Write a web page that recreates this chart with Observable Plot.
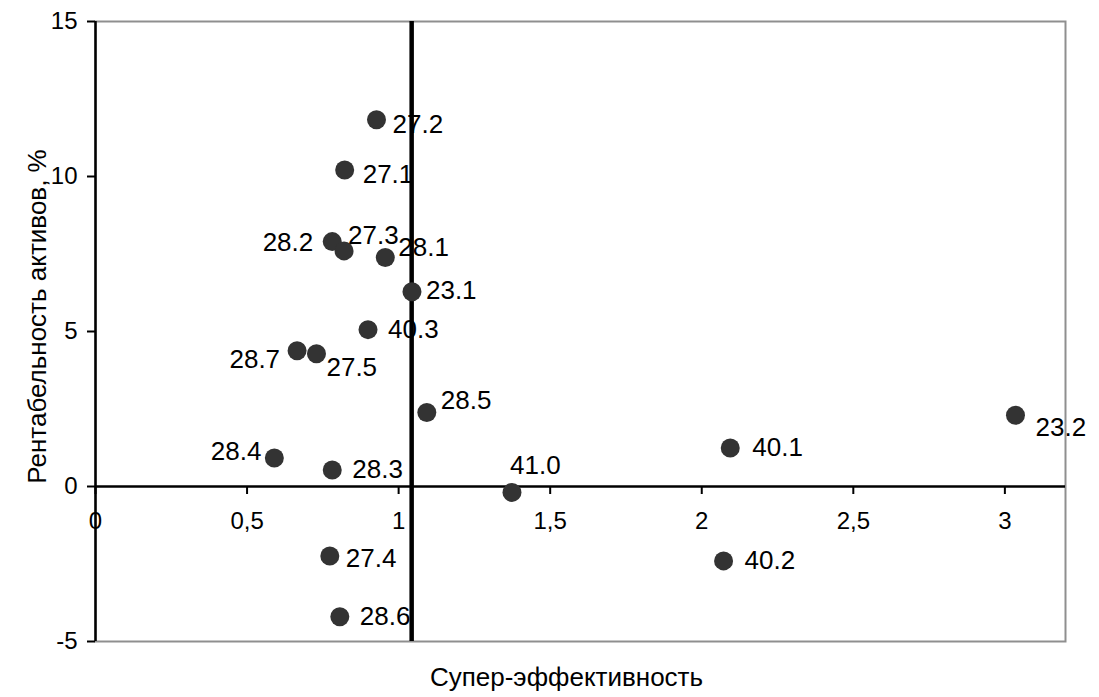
<!DOCTYPE html>
<html><head><meta charset="utf-8">
<script src="https://cdn.jsdelivr.net/npm/d3@7"></script>
<script src="https://cdn.jsdelivr.net/npm/@observablehq/plot@0.6"></script>
<style>html,body{margin:0;padding:0;background:#fff} svg{display:block}</style>
</head><body><div id="chart"></div>
<script>
// ---- data ----
const names = ["27.2","27.1","28.2","27.3","28.1","23.1","40.3","28.7","27.5","28.5","28.4","28.3","27.4","28.6","41.0","40.1","40.2","23.2"];
const superEff = [0.927,0.822,0.781,0.820,0.956,1.044,0.899,0.665,0.729,1.093,0.590,0.781,0.773,0.806,1.374,2.094,2.072,3.035];
const roa = [11.83,10.21,7.90,7.60,7.39,6.28,5.06,4.38,4.28,2.39,0.92,0.53,-2.24,-4.20,-0.19,1.24,-2.40,2.30];
const threshold = [1.043];
const xTicks = [0,0.5,1,1.5,2,2.5,3];
const yTicks = [-5,0,5,10,15];
const xTitle = "Супер-эффективность";
const yTitle = "Рентабельность активов, %";

// ---- label placement (style) ----
const labelPlacement = {
  "27.2":["start",16,4.5], "27.1":["start",18,5], "28.2":["end",-19,1], "27.3":["start",4,-15],
  "28.1":["start",13,-10], "23.1":["start",14,-1], "40.3":["start",20,0], "28.7":["end",-17,9],
  "27.5":["start",10,14], "28.5":["start",14,-12], "28.4":["end",-13,-6], "28.3":["start",20,0],
  "27.4":["start",16,3], "28.6":["start",20,0], "41.0":["start",-2,-27], "40.1":["start",22,0],
  "40.2":["start",21,0], "23.2":["start",20,12]
};

const data = names.map((n, i) => ({name: n, x: superEff[i], y: roa[i]}));
const FS = 26;   // labels and titles
const TFS = 24;  // tick labels
const fmt = d => String(d).replace(".", ",");

const labelMarks = names.map(n => {
  const [anchor, dx, dy] = labelPlacement[n];
  return Plot.text(data.filter(d => d.name === n), {
    x: "x", y: "y", text: "name", textAnchor: anchor, dx, dy,
    fontSize: FS, fill: "#000", lineAnchor: "middle"
  });
});

const chart = Plot.plot({
  width: 1099, height: 697,
  marginLeft: 95, marginRight: 34, marginTop: 21, marginBottom: 56,
  style: {fontFamily: "'Liberation Sans', Arial, sans-serif", fontSize: TFS + "px", color: "#000", background: "#fff"},
  x: {domain: [0, 3.2], axis: null},
  y: {domain: [-5, 15], axis: null},
  marks: [
    Plot.frame({stroke: "#8f8f8f", strokeWidth: 2}),
    Plot.axisY({ticks: yTicks, tickSize: 8, tickPadding: 10, label: null, stroke: "#000", strokeWidth: 2, fontSize: TFS, tickFormat: d => String(d)}),
    Plot.ruleX([0], {stroke: "#000", strokeWidth: 2.5}),
    Plot.ruleY([0], {stroke: "#000", strokeWidth: 2.5}),
    Plot.ruleX(xTicks, {x: d => d, y1: 0, y2: 0, insetBottom: -8, stroke: "#000", strokeWidth: 2}),
    Plot.text(xTicks, {x: d => d, y: 0, dy: 35, text: fmt, fontSize: TFS, fill: "#000"}),
    Plot.ruleX(threshold, {stroke: "#000", strokeWidth: 4.5}),
    Plot.dot(data, {x: "x", y: "y", r: 9.5, fill: "#333333", stroke: "none"}),
    ...labelMarks,
    Plot.text([xTitle], {text: d => d, frameAnchor: "bottom", textAnchor: "middle", dx: -14, dy: 44, fontSize: FS, fill: "#000"}),
    Plot.text([yTitle], {text: d => d, frameAnchor: "left", textAnchor: "middle", rotate: -90, dx: -58, dy: -15, fontSize: FS, fill: "#000"})
  ]
});
document.getElementById("chart").appendChild(chart);
</script>
</body></html>
